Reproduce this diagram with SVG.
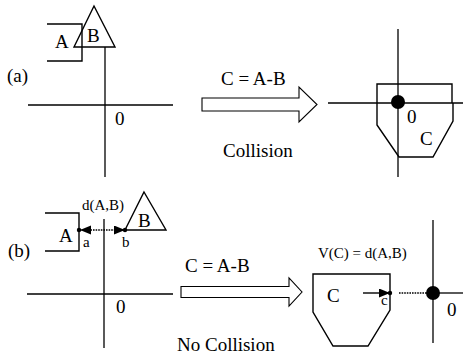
<svg xmlns="http://www.w3.org/2000/svg" width="463" height="354" viewBox="0 0 463 354">
<style>
  .ln{fill:none;stroke:#000;stroke-width:1.4}
  .ax{fill:none;stroke:#000;stroke-width:1.3}
  .dot{fill:none;stroke:#000;stroke-width:1.3;stroke-dasharray:1.6 1}
  .big{font-family:"Liberation Serif","Times New Roman",serif;font-size:19px;fill:#000}
  .sm{font-family:"Liberation Serif","Times New Roman",serif;font-size:15px;fill:#000}
  .pt{fill:#000}
  .hollow{fill:#fff;stroke:#000;stroke-width:1.1}
</style>
<defs>
  <marker id="ah" markerUnits="userSpaceOnUse" markerWidth="12" markerHeight="10" refX="11" refY="4.5" orient="auto-start-reverse">
    <path d="M0,0 L11,4.5 L0,9 z" fill="#000"/>
  </marker>
</defs>
<rect width="463" height="354" fill="#fff"/>

<!-- Row (a) -->
<text class="big" x="7" y="82">(a)</text>
<g id="a-axes">
  <line class="ax" x1="105" y1="47" x2="105" y2="177"/>
  <line class="ax" x1="28" y1="105" x2="173" y2="105"/>
  <text class="big" x="115" y="125">0</text>
</g>
<g id="a-A">
  <polyline class="ln" points="47,24 82,24 82,61 47,61"/>
  <text class="big" x="55" y="48">A</text>
</g>
<g id="a-B">
  <polygon class="ln" points="94,6 115,47 74,47"/>
  <text class="big" x="87" y="42">B</text>
</g>
<g id="a-arrow">
  <polygon class="hollow" points="202,98 299,98 299,87 317,104.5 299,122 299,111 202,111"/>
  <text class="big" x="221" y="85">C = A-B</text>
  <text class="big" x="223" y="157">Collision</text>
</g>
<g id="a-C">
  <line class="ax" x1="398" y1="29" x2="398" y2="177"/>
  <line class="ax" x1="328" y1="103" x2="463" y2="103"/>
  <polyline class="ln" points="377,103 377,84 452,84 452,103"/>
  <polyline class="ln" points="377,103 377,125 399,157 433,157 453,121 453,103"/>
  <circle class="pt" cx="398" cy="102" r="7"/>
  <text class="big" x="407" y="123">0</text>
  <text class="big" x="420" y="145">C</text>
</g>

<!-- Row (b) -->
<text class="big" x="8" y="257">(b)</text>
<g id="b-axes">
  <line class="ax" x1="104" y1="219" x2="104" y2="348"/>
  <line class="ax" x1="27" y1="294" x2="173" y2="294"/>
  <text class="big" x="116" y="313">0</text>
</g>
<g id="b-A">
  <polyline class="ln" points="45,213 79,213 79,251 45,251"/>
  <text class="big" x="59" y="242">A</text>
  <circle class="pt" cx="79" cy="230" r="2.2"/>
  <text class="sm" x="83" y="247">a</text>
</g>
<g id="b-B">
  <polygon class="ln" points="144,192 166,230 125,230"/>
  <text class="big" x="138" y="227">B</text>
  <circle class="pt" cx="125" cy="230" r="2.2"/>
  <text class="sm" x="122" y="247">b</text>
</g>
<g id="connectors">
  <line class="dot" x1="80" y1="230" x2="125" y2="230" marker-start="url(#ah)" marker-end="url(#ah)"/>
  <line class="dot" x1="399" y1="293" x2="433" y2="293"/>
  <line class="ln" x1="363" y1="293" x2="390" y2="293" marker-end="url(#ah)"/>
</g>
<text class="sm" x="82" y="210">d(A,B)</text>
<g id="b-arrow">
  <polygon class="hollow" points="181,286.5 289,286.5 289,278 302,292 289,306 289,297.5 181,297.5"/>
  <text class="big" x="185" y="272">C = A-B</text>
  <text class="big" x="177" y="351">No Collision</text>
</g>
<g id="b-C">
  <text class="sm" x="318" y="258">V(C) = d(A,B)</text>
  <polygon class="ln" points="313,274 390,274 390,310 368,346 333,346 313,312"/>
  <text class="big" x="327" y="302">C</text>
  <circle class="pt" cx="390" cy="293" r="2.2"/>
  <text class="sm" x="381" y="305">c</text>
  <line class="ax" x1="433" y1="220" x2="433" y2="343"/>
  <line class="ax" x1="433" y1="293" x2="463" y2="293"/>
  <circle class="pt" cx="433" cy="293" r="7"/>
  <text class="big" x="447" y="316">0</text>
</g>
</svg>
